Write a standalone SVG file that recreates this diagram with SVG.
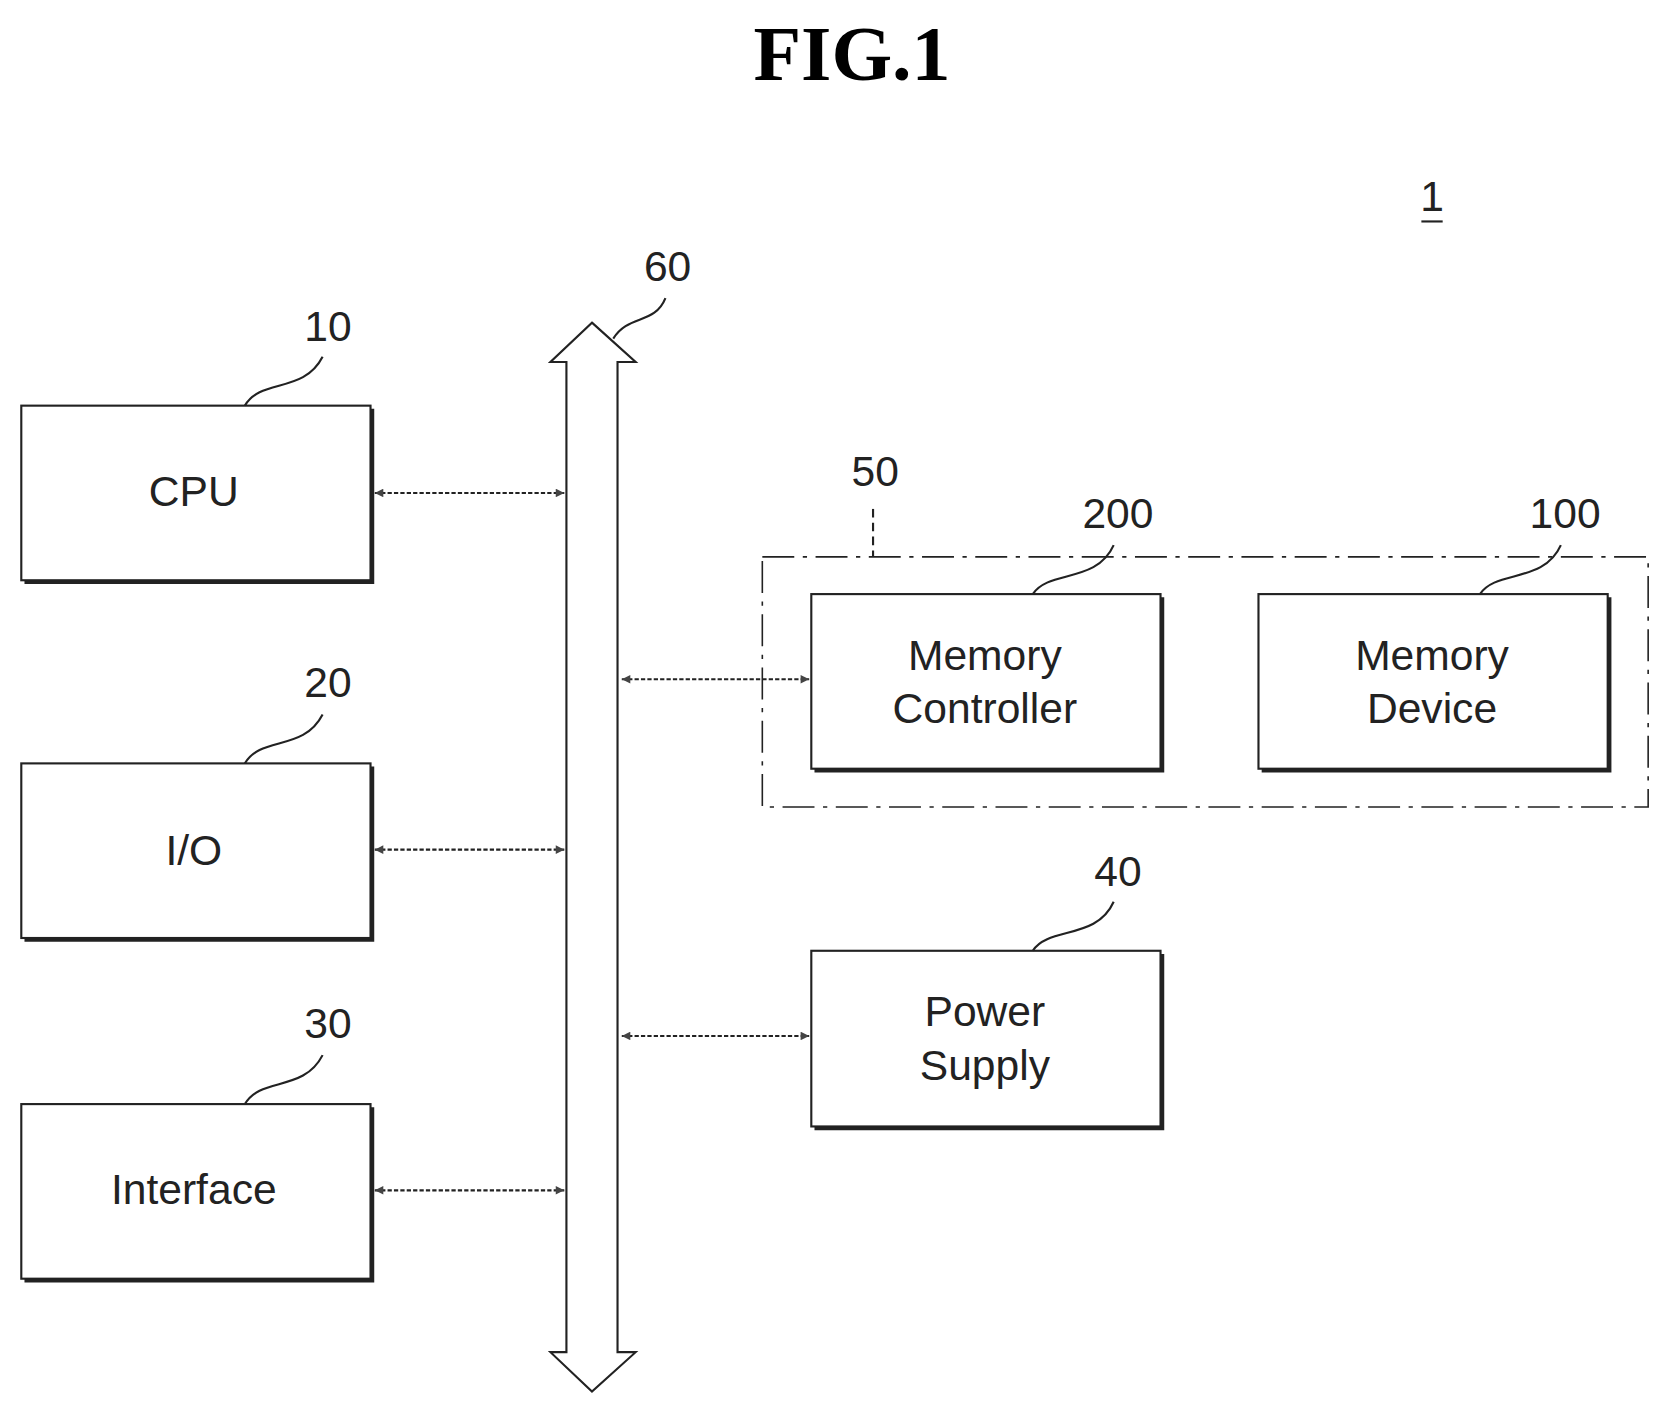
<svg xmlns="http://www.w3.org/2000/svg" width="1661" height="1407" viewBox="0 0 1661 1407">
<defs>
<style>
.box{fill:#fff;stroke:#222;stroke-width:2}
.sh{fill:none;stroke:#222;stroke-width:5}
.t{font-family:"Liberation Sans",Arial,sans-serif;font-size:40px;fill:#222;text-anchor:middle}
.ld{fill:none;stroke:#222;stroke-width:2}
.cn{stroke:#222;stroke-width:2;stroke-dasharray:4 2;fill:none;marker-start:url(#a);marker-end:url(#a)}
</style>
<marker id="a" viewBox="0 0 10 10" refX="10" refY="5" markerWidth="10" markerHeight="8" markerUnits="userSpaceOnUse" orient="auto-start-reverse"><path d="M0,0 L10,5 L0,10 z" fill="#444"/></marker>
</defs>
<rect width="1661" height="1407" fill="#fff"/>
<text x="852" y="80" style="font-family:'Liberation Serif',serif;font-weight:bold;font-size:78px;text-anchor:middle">FIG.1</text>
<g transform="scale(1.0647)">
<g id="ref1"><text class="t" x="1345" y="198">1</text><line class="ld" x1="1335" y1="208" x2="1355" y2="208"/></g>
<g id="cpu"><path class="sh" d="M349,384 V546 H23"/><rect class="box" x="20" y="381" width="328" height="164"/><text class="t" x="182" y="475">CPU</text>
<text class="t" x="308" y="320">10</text><path class="ld" d="M230,381 C245,355 285,370 303,335"/></g>
<g id="io"><path class="sh" d="M349,720 V882 H23"/><rect class="box" x="20" y="717" width="328" height="164"/><text class="t" x="182" y="812">I/O</text>
<text class="t" x="308" y="655">20</text><path class="ld" d="M230,717 C245,691 285,706 303,671"/></g>
<g id="interface"><path class="sh" d="M349,1040 V1202 H23"/><rect class="box" x="20" y="1037" width="328" height="164"/><text class="t" x="182" y="1131">Interface</text>
<text class="t" x="308" y="975">30</text><path class="ld" d="M230,1037 C245,1011 285,1026 303,991"/></g>
<g id="bus"><path class="box" d="M556,303 L597,340 H580 V1270 H597 L556,1307 L517,1270 H532 V340 H517 Z"/>
<text class="t" x="627" y="264">60</text><path class="ld" d="M576,318 C590,295 615,305 625,280"/></g>
<g id="mem50"><rect x="716" y="523" width="832" height="235" fill="none" stroke="#222" stroke-width="1.5" stroke-dasharray="30 8 4 8"/>
<text class="t" x="822" y="456">50</text><line class="ld" x1="820" y1="478" x2="820" y2="523" stroke-dasharray="8 5"/></g>
<g id="mc"><path class="sh" d="M1091,561 V723 H765"/><rect class="box" x="762" y="558" width="328" height="164"/><text class="t" x="925" y="629">Memory</text><text class="t" x="925" y="679">Controller</text>
<text class="t" x="1050" y="496">200</text><path class="ld" d="M970,558 C985,535 1030,548 1046,512"/></g>
<g id="md"><path class="sh" d="M1511,561 V723 H1185"/><rect class="box" x="1182" y="558" width="328" height="164"/><text class="t" x="1345" y="629">Memory</text><text class="t" x="1345" y="679">Device</text>
<text class="t" x="1470" y="496">100</text><path class="ld" d="M1390,558 C1405,535 1450,548 1466,512"/></g>
<g id="ps"><path class="sh" d="M1091,896 V1059 H765"/><rect class="box" x="762" y="893" width="328" height="165"/><text class="t" x="925" y="964">Power</text><text class="t" x="925" y="1014">Supply</text>
<text class="t" x="1050" y="832">40</text><path class="ld" d="M970,893 C985,870 1030,883 1046,847"/></g>
<g id="connectors">
<line class="cn" x1="352" y1="463" x2="530" y2="463"/>
<line class="cn" x1="352" y1="798" x2="530" y2="798"/>
<line class="cn" x1="352" y1="1118" x2="530" y2="1118"/>
<line class="cn" x1="584" y1="638" x2="760" y2="638"/>
<line class="cn" x1="584" y1="973" x2="760" y2="973"/>
</g>
</g>
</svg>
